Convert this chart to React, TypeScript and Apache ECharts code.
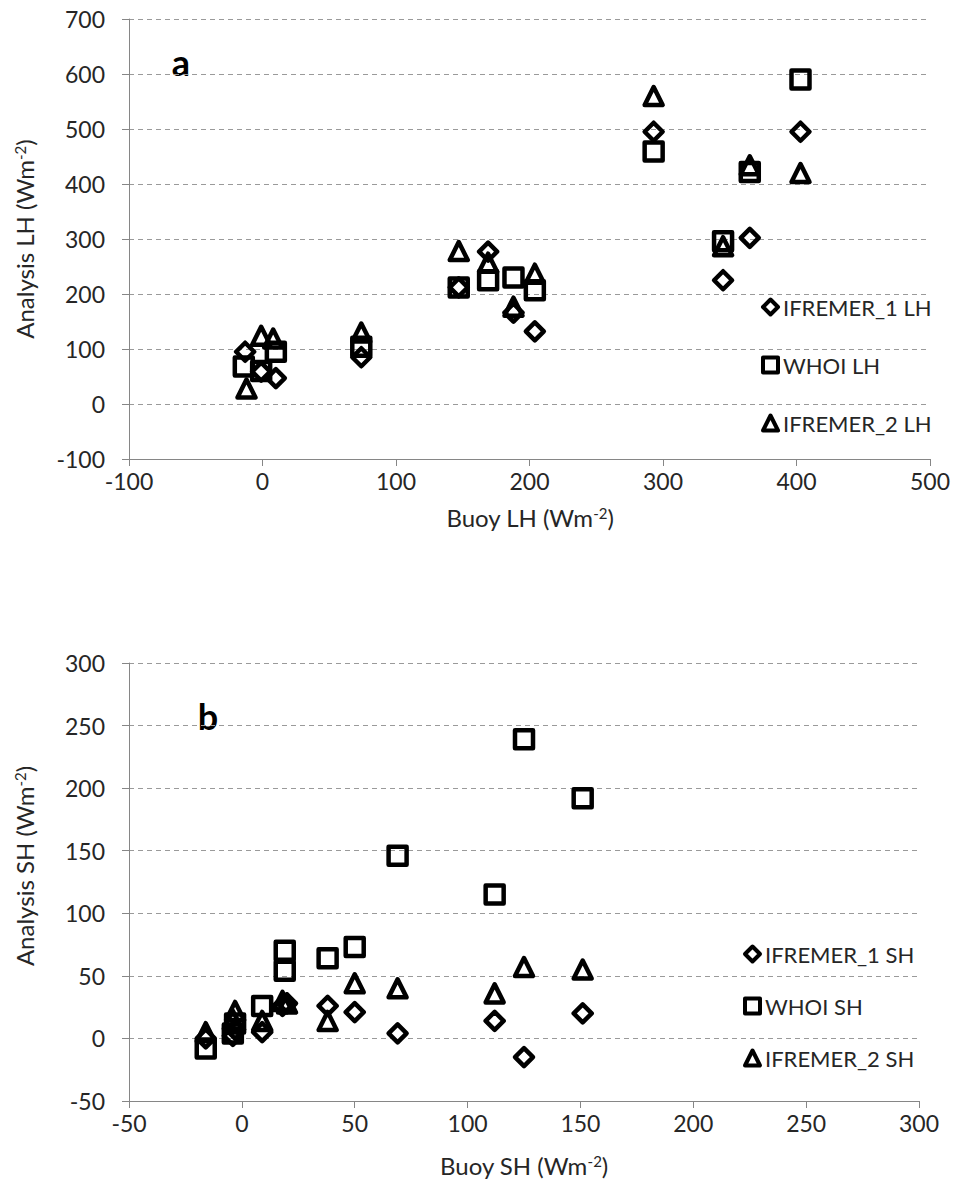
import React, { useEffect, useRef } from "react";
import * as echarts from "echarts";

// ---- Panel a: latent heat (LH) ----
const lhIfremer1: [number, number][] = [
  [-13, 95], [-1, 59], [10, 47], [74, 85], [147, 212], [169, 277],
  [188, 166], [204, 132], [293, 495], [345, 225], [365, 302], [403, 495],
];
const lhWhoi: [number, number][] = [
  [-14, 68], [-1, 60], [10, 95], [74, 104], [147, 212], [169, 225],
  [188, 230], [204, 207], [293, 459], [345, 296], [365, 422], [403, 590],
];
const lhIfremer2: [number, number][] = [
  [-12, 28], [-1, 124], [8, 119], [74, 130], [147, 278], [169, 257],
  [188, 177], [204, 237], [293, 560], [345, 287], [365, 434], [403, 420],
];

// ---- Panel b: sensible heat (SH) ----
const shIfremer1: [number, number][] = [
  [-16, 0], [-4, 2], [-3, 7], [9, 5], [18, 26], [20, 28],
  [38, 26], [50, 21], [69, 4], [112, 14], [125, -15], [151, 20],
];
const shWhoi: [number, number][] = [
  [-16, -8], [-4, 4], [-3, 12], [9, 26], [19, 54], [19, 70],
  [38, 64], [50, 73], [69, 146], [112, 115], [125, 239], [151, 192],
];
const shIfremer2: [number, number][] = [
  [-16, 5], [-4, 15], [-3, 22], [9, 14], [18, 30], [20, 28],
  [38, 14], [50, 44], [69, 40], [112, 36], [125, 57], [151, 55],
];

const lhNames = ["IFREMER_1 LH", "WHOI LH", "IFREMER_2 LH"];
const shNames = ["IFREMER_1 SH", "WHOI SH", "IFREMER_2 SH"];
const symbols = ["diamond", "rect", "triangle"];

const FONT = "Lato, 'Open Sans', sans-serif";
const TEXT = "#262626";
const AXIS = "#868686";

export default function App() {
  const ref = useRef<HTMLDivElement>(null);
  useEffect(() => {
    if (!ref.current) return;
    const chart = echarts.init(ref.current, undefined, { renderer: "svg" });

    const xAxisBase = {
      type: "value" as const,
      axisLine: { show: true, onZero: false, lineStyle: { color: AXIS, width: 1 } },
      axisTick: { show: true, length: 7, lineStyle: { color: AXIS } },
      axisLabel: { color: TEXT, fontSize: 23, fontFamily: FONT, margin: 10 },
      splitLine: { show: false },
    };
    const yAxisBase = {
      type: "value" as const,
      axisLine: { show: true, onZero: false, lineStyle: { color: AXIS, width: 1 } },
      axisTick: { show: true, length: 7, lineStyle: { color: AXIS } },
      axisLabel: { color: TEXT, fontSize: 23, fontFamily: FONT, margin: 24 },
      splitLine: { show: true, lineStyle: { color: "#9a9a9a", type: [5, 4], width: 1 } },
    };

    const markerStyle = {
      color: "rgba(255,255,255,0)",
      borderColor: "#000",
      borderWidth: 4.5,
      borderJoin: "round",
      opacity: 1,
    };

    const mkSeries = (name: string, data: [number, number][], sym: string, idx: number) => ({
      name,
      type: "scatter",
      xAxisIndex: idx,
      yAxisIndex: idx,
      data,
      symbol: sym,
      symbolSize: 18,
      itemStyle: markerStyle,
      emphasis: { disabled: true },
    });

    const legendBase = {
      orient: "vertical" as const,
      itemWidth: 15,
      itemHeight: 15,
      padding: 0,
      selectedMode: false,
      itemStyle: { ...markerStyle, borderWidth: 4 },
      textStyle: { fontSize: 22, fontFamily: FONT, color: TEXT, lineHeight: 20 },
    };

    const titleStyle = (text: string) => ({
      text,
      fontSize: 24,
      fontFamily: FONT,
      fill: TEXT,
      align: "center",
      verticalAlign: "middle",
      rich: {
        sup: { fontSize: 15, fontFamily: FONT, fill: TEXT, verticalAlign: "top" },
      },
    });

    chart.setOption({
      animation: false,
      backgroundColor: "#ffffff",
      textStyle: { fontFamily: FONT },
      grid: [
        { left: 129, top: 19, width: 802, height: 440 },
        { left: 129, top: 663, width: 790, height: 438 },
      ],
      xAxis: [
        { ...xAxisBase, gridIndex: 0, min: -100, max: 500, interval: 100 },
        { ...xAxisBase, gridIndex: 1, min: -50, max: 300, interval: 50 },
      ],
      yAxis: [
        { ...yAxisBase, gridIndex: 0, min: -100, max: 700, interval: 100 },
        { ...yAxisBase, gridIndex: 1, min: -50, max: 300, interval: 50 },
      ],
      legend: [
        { ...legendBase, left: 761, top: 296, itemGap: 36, data: lhNames },
        { ...legendBase, left: 743, top: 943, itemGap: 30, data: shNames },
      ],
      series: [
        mkSeries(lhNames[0], lhIfremer1, symbols[0], 0),
        mkSeries(lhNames[1], lhWhoi, symbols[1], 0),
        mkSeries(lhNames[2], lhIfremer2, symbols[2], 0),
        mkSeries(shNames[0], shIfremer1, symbols[0], 1),
        mkSeries(shNames[1], shWhoi, symbols[1], 1),
        mkSeries(shNames[2], shIfremer2, symbols[2], 1),
      ],
      graphic: [
        {
          type: "text", x: 181, y: 62,
          style: { text: "a", fontSize: 36, fontWeight: "bold", fontFamily: FONT, fill: "#000", align: "center", verticalAlign: "middle" },
        },
        {
          type: "text", x: 208, y: 716,
          style: { text: "b", fontSize: 36, fontWeight: "bold", fontFamily: FONT, fill: "#000", align: "center", verticalAlign: "middle" },
        },
        { type: "text", x: 530, y: 517, style: titleStyle("Buoy LH (Wm{sup|-2})") },
        { type: "text", x: 524, y: 1165, style: titleStyle("Buoy SH (Wm{sup|-2})") },
        { type: "text", x: 24, y: 239, rotation: Math.PI / 2, style: titleStyle("Analysis LH (Wm{sup|-2})") },
        { type: "text", x: 24, y: 866, rotation: Math.PI / 2, style: titleStyle("Analysis SH (Wm{sup|-2})") },
      ],
    });

    return () => chart.dispose();
  }, []);

  return (
    <div
      ref={ref}
      style={{ position: "absolute", left: 0, top: 0, width: 953, height: 1200, background: "#fff" }}
    />
  );
}
